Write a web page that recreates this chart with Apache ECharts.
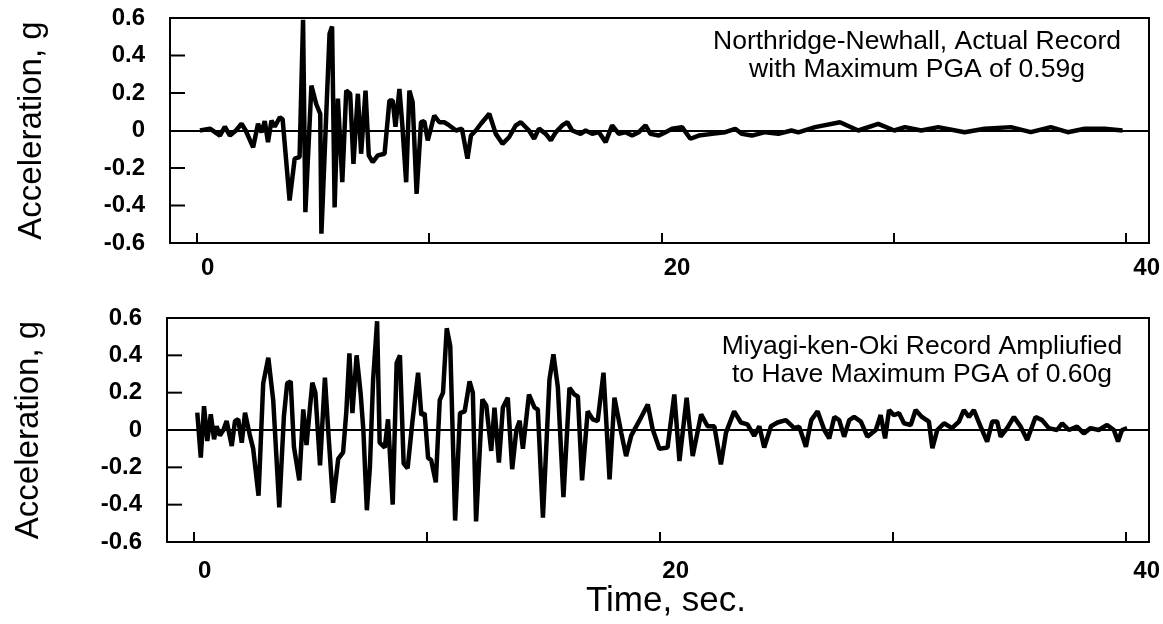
<!DOCTYPE html>
<html>
<head>
<meta charset="utf-8">
<script src="https://cdn.jsdelivr.net/npm/echarts@6/dist/echarts.min.js"></script>
<style>
  html, body { margin: 0; padding: 0; background: #fff; }
  #chart { width: 1163px; height: 624px; }
</style>
</head>
<body>
<div id="chart"></div>
<script>
// Northridge-Newhall record (time in s, acceleration in g)
var nhTime = [0.13, 0.56, 0.99, 1.20, 1.42, 1.68, 1.92, 2.10, 2.42, 2.63, 2.78, 2.92, 3.06, 3.21, 3.35, 3.57, 3.69, 3.99, 4.21, 4.42,
  4.57, 4.67, 4.93, 5.14, 5.31, 5.36, 5.71, 5.82, 5.93, 6.07, 6.26, 6.43, 6.60, 6.74, 6.93, 7.07, 7.26, 7.40, 7.57, 7.79,
  8.08, 8.29, 8.43, 8.55, 8.72, 8.85, 9.01, 9.15, 9.29, 9.46, 9.65, 9.79, 9.94, 10.22, 10.44, 10.65, 10.87, 11.16, 11.41, 11.65,
  11.80, 12.01, 12.23, 12.59, 12.87, 13.16, 13.44, 13.73, 13.95, 14.30, 14.52, 14.73, 15.02, 15.24, 15.45, 15.73, 15.95, 16.16, 16.52, 16.74,
  17.02, 17.31, 17.60, 17.88, 18.17, 18.46, 18.74, 19.03, 19.32, 19.53, 19.89, 20.18, 20.46, 20.89, 21.25, 21.61, 22.18, 22.75, 23.18, 23.47,
  23.90, 24.47, 25.04, 25.60, 25.90, 26.62, 27.69, 28.48, 29.34, 30.03, 30.49, 31.19, 31.92, 33.06, 33.92, 35.05, 35.91, 36.77, 37.50, 38.23,
  39.09, 39.86];
var nhAccel = [0.0, 0.01, -0.027, 0.02, -0.027, 0.0, 0.036, 0.0, -0.09, 0.036, -0.01, 0.05, -0.062, 0.053, 0.02, 0.071, 0.06, -0.373, -0.15, -0.142,
  0.59, -0.436, 0.24, 0.14, 0.089, -0.55, 0.516, 0.555, -0.41, 0.17, -0.276, 0.213, 0.196, -0.178, 0.196, -0.124, 0.213, -0.133, -0.169, -0.133,
  -0.124, 0.16, 0.16, 0.02, 0.222, 0.02, -0.276, 0.213, 0.15, -0.338, 0.044, 0.05, -0.053, 0.08, 0.044, 0.044, 0.027, 0.0, 0.01, -0.15,
  -0.027, 0.0, 0.036, 0.089, -0.018, -0.071, -0.036, 0.027, 0.044, 0.0, -0.044, 0.01, -0.018, -0.053, -0.01, 0.027, 0.044, 0.0, -0.018, 0.0,
  -0.018, -0.009, -0.062, 0.027, -0.018, -0.009, -0.027, -0.009, 0.027, -0.018, -0.027, -0.009, 0.009, 0.018, -0.044, -0.027, -0.018, -0.009, 0.009, -0.018,
  -0.027, -0.009, -0.018, 0.0, -0.01, 0.018, 0.044, 0.0, 0.035, 0.0, 0.018, 0.0, 0.018, -0.009, 0.009, 0.018, -0.009, 0.018, -0.009, 0.009,
  0.009, 0.0];

// Miyagi-ken-Oki record, amplified
var myTime = [0.14, 0.29, 0.43, 0.57, 0.72, 0.86, 0.97, 1.11, 1.26, 1.40, 1.62, 1.76, 1.90, 2.05, 2.19, 2.40, 2.54, 2.77, 2.97, 3.19,
  3.40, 3.66, 3.86, 4.00, 4.15, 4.29, 4.52, 4.69, 4.83, 4.97, 5.08, 5.21, 5.41, 5.62, 5.76, 5.97, 6.19, 6.40, 6.54, 6.67,
  6.80, 6.98, 7.15, 7.27, 7.42, 7.55, 7.69, 7.86, 7.97, 8.19, 8.33, 8.53, 8.70, 8.84, 9.00, 9.17, 9.38, 9.62, 9.76, 9.90,
  10.05, 10.18, 10.38, 10.55, 10.69, 10.85, 11.00, 11.21, 11.42, 11.62, 11.83, 11.97, 12.11, 12.38, 12.55, 12.76, 12.90, 13.09, 13.26, 13.47,
  13.66, 13.84, 13.98, 14.12, 14.38, 14.62, 14.76, 14.98, 15.26, 15.43, 15.62, 15.86, 16.12, 16.33, 16.48, 16.66, 16.90, 17.12, 17.33, 17.58,
  17.84, 18.05, 18.34, 18.55, 18.77, 19.12, 19.48, 19.69, 19.98, 20.33, 20.62, 20.84, 21.15, 21.41, 21.77, 22.05, 22.34, 22.62, 22.84, 23.19,
  23.48, 23.76, 24.05, 24.27, 24.48, 24.77, 25.05, 25.41, 25.77, 25.98, 26.27, 26.50, 26.77, 27.06, 27.27, 27.49, 27.70, 27.91, 28.13, 28.34,
  28.63, 28.91, 29.27, 29.48, 29.67, 29.84, 30.05, 30.27, 30.48, 30.77, 30.98, 31.25, 31.55, 31.70, 31.91, 32.20, 32.54, 32.84, 33.05, 33.27,
  33.48, 33.77, 34.05, 34.27, 34.48, 34.63, 34.91, 35.20, 35.49, 35.77, 36.13, 36.41, 36.70, 37.05, 37.27, 37.56, 37.91, 38.20, 38.49, 38.84,
  39.20, 39.49, 39.67, 39.84, 40.06];
var myAccel = [0.093, -0.148, 0.128, -0.059, 0.084, -0.05, 0.02, -0.03, 0.0, 0.048, -0.086, 0.048, 0.057, -0.068, 0.093, -0.03, -0.1, -0.352, 0.25, 0.387,
  0.16, -0.415, 0.075, 0.25, 0.26, -0.09, -0.27, 0.11, -0.08, 0.11, 0.253, 0.2, -0.19, 0.28, 0.0, -0.39, -0.155, -0.12, 0.1, 0.41,
  0.09, 0.4, 0.2, 0.0, -0.43, -0.2, 0.27, 0.583, -0.068, -0.094, 0.057, -0.4, 0.36, 0.4, -0.18, -0.205, 0.05, 0.307, 0.08, 0.09,
  -0.15, -0.16, -0.28, 0.16, 0.2, 0.545, 0.45, -0.485, 0.09, 0.1, 0.26, 0.2, -0.49, 0.164, 0.13, -0.112, 0.12, -0.175, 0.12, 0.173,
  -0.21, 0.0, 0.05, -0.1, 0.19, 0.12, 0.11, -0.47, 0.27, 0.405, 0.23, -0.36, 0.226, 0.19, 0.18, -0.27, 0.1, 0.057, 0.048, 0.307,
  -0.264, 0.173, -0.014, -0.14, -0.03, 0.05, 0.137, 0.004, -0.1, -0.094, 0.19, -0.166, 0.173, -0.14, 0.084, 0.02, 0.02, -0.184, -0.014, 0.1,
  0.04, 0.03, -0.032, 0.02, -0.094, 0.02, 0.04, 0.053, 0.01, 0.018, -0.09, 0.053, 0.1, 0.0, -0.045, 0.07, 0.053, -0.036, 0.053, 0.07,
  0.045, -0.036, 0.0, 0.08, -0.045, 0.107, 0.08, 0.09, 0.036, 0.027, 0.107, 0.07, 0.045, -0.098, 0.0, 0.036, 0.01, 0.045, 0.107, 0.07,
  0.107, 0.018, -0.062, 0.045, 0.045, -0.036, 0.01, 0.07, 0.018, -0.053, 0.07, 0.053, 0.01, 0.0, 0.036, 0.0, 0.018, -0.018, 0.01, 0.0,
  0.027, 0.0, -0.062, 0.0, 0.01];

// ticks and labels
var xTicks = [0, 10, 20, 30, 40];
var xLabels = [0, 20, 40];
var yTicks = [-0.4, -0.2, 0.2, 0.4];
var yLabels = [-0.6, -0.4, -0.2, 0, 0.2, 0.4, 0.6];

var X_MIN = -1.16, X_MAX = 41;
var FONT = '"Liberation Sans", Arial, Helvetica, sans-serif';

function pairs(t, a) {
  return t.map(function (v, i) { return [v, a[i]]; });
}

function dataAxis(gi) {
  return {
    gridIndex: gi, type: 'value', position: 'bottom', min: X_MIN, max: X_MAX,
    axisLine: {show: false, onZero: false}, splitLine: {show: false},
    axisTick: {inside: true, length: 10, customValues: xTicks, lineStyle: {color: '#000', width: 2}},
    axisLabel: {show: false}
  };
}

// labels in the original sit a bit right of their ticks, so they get their own axis
function labelAxis(gi, margin, extra) {
  var ax = {
    gridIndex: gi, type: 'value', position: 'bottom', min: -1.6, max: 40.1,
    axisLine: {show: false, onZero: false}, splitLine: {show: false}, axisTick: {show: false},
    axisLabel: {customValues: xLabels, margin: margin, fontSize: 24, fontWeight: 'bold', color: '#000', fontFamily: FONT}
  };
  return Object.assign(ax, extra || {});
}

function yAxis(gi) {
  return {
    gridIndex: gi, type: 'value', min: -0.6, max: 0.6, interval: 0.2,
    axisLine: {show: false, onZero: false},
    splitLine: {show: false},
    axisTick: {show: false},
    axisLabel: {
      customValues: yLabels, margin: 25, fontSize: 24, fontWeight: 'bold', color: '#000', fontFamily: FONT,
      formatter: function (v) { return v === 0 ? '0' : Number(v).toFixed(1); }
    },
    name: 'Acceleration, g', nameLocation: 'middle', nameGap: 122,
    nameTextStyle: {fontSize: 33, color: '#000', fontFamily: FONT}
  };
}

function trace(xi, yi, data) {
  return {
    type: 'line', xAxisIndex: xi, yAxisIndex: yi, data: data,
    showSymbol: false, symbol: 'none', animation: false,
    lineStyle: {color: '#000', width: 4.5},
    markLine: {
      silent: true, symbol: 'none', label: {show: false}, animation: false,
      lineStyle: {color: '#000', width: 2, type: 'solid'},
      data: [{yAxis: 0}]
    }
  };
}

function note(x, y, text) {
  return {
    type: 'text', x: x, y: y, z: 10,
    style: {
      text: text, fontSize: 26.5, fontFamily: FONT, fill: '#000', lineHeight: 28,
      align: 'center', verticalAlign: 'top'
    }
  };
}

var chart = echarts.init(document.getElementById('chart'));
chart.setOption({
  animation: false,
  backgroundColor: '#fff',
  grid: [
    {left: 170, top: 18, width: 982, height: 225, show: true, borderColor: '#000', borderWidth: 2},
    {left: 167, top: 318, width: 983, height: 224, show: true, borderColor: '#000', borderWidth: 2}
  ],
  xAxis: [
    dataAxis(0),
    labelAxis(0, 13),
    dataAxis(1),
    labelAxis(1, 17, {
      name: 'Time, sec.', nameLocation: 'middle', nameGap: 40,
      nameTextStyle: {fontSize: 35, color: '#000', fontFamily: FONT, padding: [0, 0, 0, 16]}
    })
  ],
  yAxis: [yAxis(0), yAxis(1)],
  series: [
    trace(0, 0, pairs(nhTime, nhAccel)),
    trace(2, 1, pairs(myTime, myAccel))
  ]
});

// inward y ticks on the left frame, placed through the axis scales
var graphics = [
  note(917, 28, 'Northridge-Newhall, Actual Record\nwith Maximum PGA of 0.59g'),
  note(922, 333, 'Miyagi-ken-Oki Record Ampliufied\nto Have Maximum PGA of 0.60g')
];
[[0, 0], [2, 1]].forEach(function (ax) {
  yTicks.forEach(function (v) {
    var p = chart.convertToPixel({xAxisIndex: ax[0], yAxisIndex: ax[1]}, [X_MIN, v]);
    graphics.push({
      type: 'line', z: 10, silent: true,
      shape: {x1: p[0], y1: p[1], x2: p[0] + 15, y2: p[1]},
      style: {stroke: '#000', lineWidth: 2}
    });
  });
});
chart.setOption({graphic: graphics});
</script>
</body>
</html>
